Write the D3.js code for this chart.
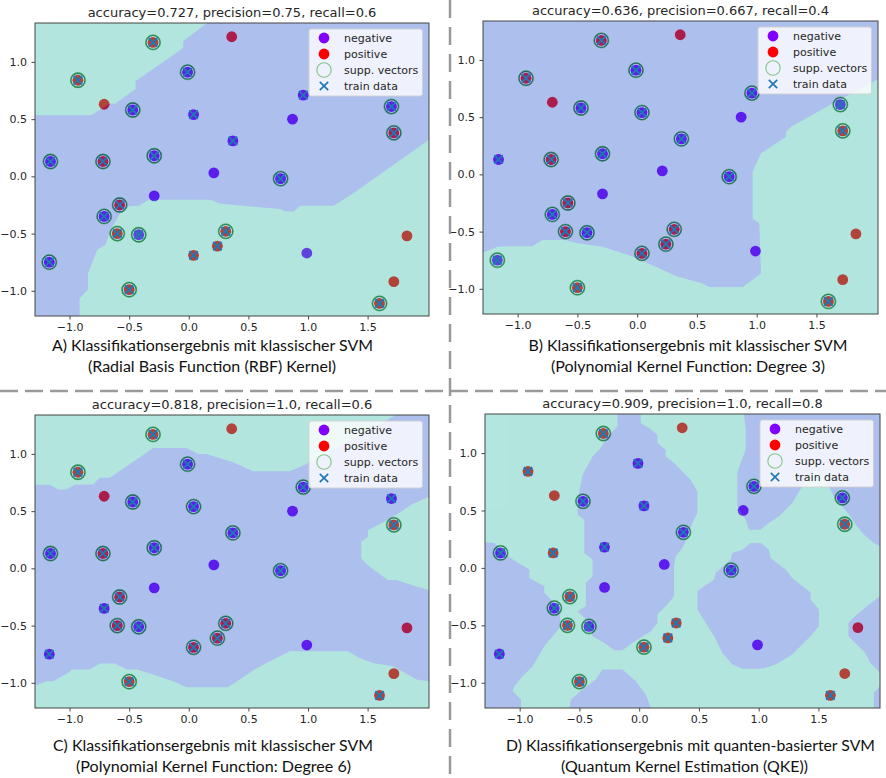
<!DOCTYPE html>
<html><head><meta charset="utf-8">
<script src="https://cdn.jsdelivr.net/npm/d3@7"></script>
<style>body{margin:0;background:#fff}</style>
</head><body>
<svg id="c" width="886" height="778"></svg>
<script>
// ---------------- DATA ----------------
const pointX = [-0.30, 0.36, -0.93, -0.71, -0.01, -0.47, 0.04, 0.96, 0.87, 1.70, 1.72, 0.37, -1.16, -0.72, -0.29, 0.21, 0.77, -0.29, -0.58, -0.71, -0.60, -0.42, 0.31, 0.24, 0.04, 0.99, 1.83, -1.17, -0.50, 1.72, 1.60];
const pointY = [1.17, 1.22, 0.84, 0.63, 0.91, 0.58, 0.54, 0.71, 0.50, 0.61, 0.38, 0.31, 0.13, 0.13, 0.18, 0.03, -0.02, -0.17, -0.25, -0.35, -0.50, -0.51, -0.48, -0.61, -0.69, -0.67, -0.52, -0.75, -0.99, -0.92, -1.11];
const pointClass = [1, 1, 1, 1, 0, 0, 0, 0, 0, 0, 1, 0, 0, 1, 0, 0, 0, 0, 1, 0, 1, 0, 1, 1, 1, 0, 1, 0, 1, 1, 1];
const isTrain = [1, 0, 1, 0, 1, 1, 1, 1, 0, 1, 1, 1, 1, 1, 1, 0, 1, 0, 1, 1, 1, 1, 1, 1, 1, 0, 0, 1, 1, 0, 1];

const supportA = [0, 2, 4, 5, 9, 10, 12, 13, 14, 16, 18, 19, 20, 21, 22, 27, 28, 30];
const supportB = [0, 2, 4, 5, 6, 7, 9, 10, 11, 13, 14, 16, 18, 19, 20, 21, 22, 23, 24, 27, 28, 30];
const supportC = [0, 2, 4, 5, 6, 7, 10, 11, 12, 13, 14, 16, 18, 20, 21, 22, 23, 24, 28];
const supportD = [0, 5, 7, 9, 10, 11, 12, 16, 18, 19, 20, 21, 24, 28];

const panelTitles = [
  "accuracy=0.727, precision=0.75, recall=0.6",
  "accuracy=0.636, precision=0.667, recall=0.4",
  "accuracy=0.818, precision=1.0, recall=0.6",
  "accuracy=0.909, precision=1.0, recall=0.8"
];
const captionLine1 = [
  "A) Klassifikationsergebnis mit klassischer SVM",
  "B) Klassifikationsergebnis mit klassischer SVM",
  "C) Klassifikationsergebnis mit klassischer SVM",
  "D) Klassifikationsergebnis mit quanten-basierter SVM"
];
const captionLine2 = [
  "(Radial Basis Function (RBF) Kernel)",
  "(Polynomial Kernel Function: Degree 3)",
  "(Polynomial Kernel Function: Degree 6)",
  "(Quantum Kernel Estimation (QKE))"
];
const legendLabels = ["negative", "positive", "supp. vectors", "train data"];
const xTicks = [-1.0, -0.5, 0.0, 0.5, 1.0, 1.5];
const yTicks = [-1.0, -0.5, 0.0, 0.5, 1.0];
const xDomain = [-1.29, 2.015];
const yDomain = [-1.22, 1.34];

// decision regions: background class per panel, and polygons of the other class
const regionBaseClass = [0, 0, 0, 1];
const regionsA = [
  [[-1.29,1.34],[0.154,1.34],[-0.047,1.181],[-0.047,1.122],[-0.447,0.831],[-0.447,0.764],[-0.615,0.636],[-0.662,0.636],[-0.818,0.534],[-1.29,0.534]],
  [[-0.916,-1.22],[-0.916,-1.064],[-0.846,-0.991],[-0.846,-0.851],[-0.768,-0.641],[-0.698,-0.598],[-0.656,-0.466],[-0.573,-0.321],[-0.503,-0.262],[-0.419,-0.257],[-0.335,-0.204],[0.182,-0.204],[0.265,-0.239],[0.768,-0.286],[0.81,-0.306],[0.88,-0.306],[0.936,-0.257],[1.215,-0.257],[1.383,-0.146],[2.015,0.321],[2.015,-1.22]]
];
const regionsB = [
  [[-1.29,-0.682],[-1.170,-0.633],[-1.087,-0.627],[-0.877,-0.627],[-0.793,-0.574],[-0.598,-0.574],[-0.514,-0.598],[-0.291,-0.633],[-0.067,-0.706],[0.156,-0.808],[0.324,-0.889],[0.547,-0.953],[0.603,-0.983],[0.883,-0.983],[1.036,-0.866],[1.022,-0.429],[0.966,-0.385],[0.966,0.023],[1.036,0.184],[1.246,0.329],[1.246,0.373],[1.288,0.417],[1.665,0.636],[2.015,0.831],[2.015,-1.22],[-1.29,-1.22]]
];
const regionsC = [
  [[-1.29,1.34],[1.740,1.34],[1.098,0.971],[0.930,0.884],[0.846,0.849],[0.539,0.849],[0.372,0.928],[0.148,1.0],[0.078,1.0],[-0.020,1.052],[-0.299,1.052],[-0.411,0.971],[-0.662,0.791],[-0.746,0.791],[-0.802,0.733],[-0.955,0.733],[-1.025,0.690],[-1.095,0.690],[-1.165,0.730],[-1.29,0.730]],
  [[2.015,0.623],[1.880,0.565],[1.712,0.449],[1.503,0.333],[1.503,0.275],[1.447,0.232],[1.447,0.087],[1.517,0.014],[1.670,-0.101],[1.740,-0.101],[1.908,-0.159],[2.015,-0.188]],
  [[-1.29,-1.023],[-1.193,-0.986],[-1.137,-0.986],[-1.011,-0.913],[-0.983,-0.884],[-0.830,-0.884],[-0.746,-0.832],[-0.620,-0.832],[-0.522,-0.884],[-0.438,-0.884],[-0.299,-0.928],[-0.132,-0.986],[-0.019,-1.038],[0.329,-1.038],[0.427,-0.971],[0.553,-0.884],[0.651,-0.826],[0.735,-0.783],[0.847,-0.725],[1.335,-0.725],[1.433,-0.783],[1.545,-0.826],[1.712,-0.856],[1.811,-0.913],[1.909,-0.971],[2.015,-0.986],[2.015,-1.22],[-1.29,-1.22]]
];
const regionsD = [
  [[-0.181,1.34],[0.013,1.34],[0.013,1.261],[0.084,1.217],[0.153,1.159],[0.153,1.087],[0.222,1.029],[0.222,0.970],[0.292,0.913],[0.362,0.840],[0.431,0.768],[0.487,0.666],[0.487,0.478],[0.445,0.391],[0.389,0.231],[0.362,0.174],[0.306,0.101],[0.292,0.014],[0.292,-0.247],[0.222,-0.334],[0.153,-0.406],[0.153,-0.478],[0.097,-0.551],[-0.056,-0.652],[-0.140,-0.717],[-0.209,-0.717],[-0.292,-0.652],[-0.390,-0.595],[-0.418,-0.478],[-0.515,-0.377],[-0.446,-0.334],[-0.446,-0.130],[-0.390,-0.073],[-0.390,0.072],[-0.459,0.130],[-0.459,0.420],[-0.515,0.463],[-0.515,0.594],[-0.474,0.811],[-0.390,0.970],[-0.321,1.043],[-0.251,1.159],[-0.181,1.231]],
  [[-1.29,0.223],[-1.211,0.217],[-1.142,0.144],[-1.058,0.072],[-0.989,0.029],[-0.919,-0.015],[-0.919,-0.087],[-0.794,-0.160],[-0.794,-0.217],[-0.724,-0.290],[-0.668,-0.363],[-0.655,-0.508],[-0.724,-0.595],[-0.794,-0.682],[-0.850,-0.783],[-0.891,-0.856],[-0.975,-0.943],[-1.044,-1.030],[-1.058,-1.073],[-0.989,-1.145],[-0.989,-1.22],[-1.29,-1.22]],
  [[-0.585,-1.22],[-0.571,-1.145],[-0.474,-1.058],[-0.363,-0.971],[-0.307,-0.884],[-0.140,-0.884],[-0.028,-0.986],[0.055,-1.102],[0.097,-1.22]],
  [[0.487,-0.203],[0.487,-0.363],[0.556,-0.478],[0.627,-0.595],[0.696,-0.739],[0.779,-0.841],[0.863,-0.878],[1.030,-0.878],[1.141,-0.841],[1.281,-0.754],[1.364,-0.667],[1.434,-0.595],[1.504,-0.508],[1.504,-0.363],[1.434,-0.276],[1.434,-0.217],[1.281,-0.087],[1.225,-0.015],[1.099,0.087],[1.086,0.159],[1.016,0.217],[0.932,0.217],[0.863,0.159],[0.779,0.130],[0.765,0.072],[0.640,-0.043],[0.627,-0.102],[0.543,-0.160]],
  [[0.877,1.34],[2.015,1.34],[2.015,0.188],[1.963,0.217],[1.880,0.290],[1.810,0.377],[1.768,0.449],[1.698,0.536],[1.629,0.623],[1.587,0.710],[1.475,0.855],[1.364,0.710],[1.281,0.565],[1.170,0.449],[1.086,0.391],[1.016,0.333],[0.919,0.333],[0.891,0.420],[0.821,0.536],[0.821,0.826],[0.849,0.913],[0.891,1.029],[0.891,1.203]],
  [[2.015,-0.247],[1.905,-0.334],[1.821,-0.406],[1.751,-0.478],[1.751,-0.595],[1.821,-0.667],[1.891,-0.739],[1.933,-0.826],[2.015,-0.913]],
  [[2.015,-1.03],[1.963,-1.087],[1.963,-1.22],[2.015,-1.22]]
];

// ---------------- LAYOUT / STYLE ----------------
const allSupport = [supportA, supportB, supportC, supportD];
const allRegions = [regionsA, regionsB, regionsC, regionsD];
const plotRects = [
  {l: 35, t: 23, r: 429, b: 316},
  {l: 483, t: 21, r: 878, b: 314},
  {l: 35, t: 415, r: 429, b: 708},
  {l: 485, t: 414, r: 880, b: 708}
];
const titleBase = [17, 15, 408.5, 407.5];
const capLayout = [
  {cx1: 212.5, cx2: 212, y1: 351, y2: 372, w1: 321, w2: 248},
  {cx1: 688, cx2: 688, y1: 351, y2: 372, w1: 319, w2: 274},
  {cx1: 213, cx2: 213.5, y1: 750.5, y2: 771.5, w1: 320, w2: 275},
  {cx1: 690.5, cx2: 684.5, y1: 750.5, y2: 771.5, w1: 369, w2: 247}
];
const classColor = ["#8000ff", "#ff0000"];
const regionColor = ["#1e50d0", "#29baa3"];
const overlayAlpha = 0.36;
const crossColor = "#1f77b4";
const ringColor = "#2ca02c";
const fmt = d3.format(".1f");

const svg = d3.select("#c");
svg.append("rect").attr("width", 886).attr("height", 778).attr("fill", "#fff");

const points = pointX.map((x, i) => ({x, y: pointY[i], c: pointClass[i], train: isTrain[i], i}));
const crossPath = "M-4.2,-4.2L4.2,4.2M-4.2,4.2L4.2,-4.2";

plotRects.forEach((R, p) => {
  const x = d3.scaleLinear().domain(xDomain).range([R.l, R.r]);
  const y = d3.scaleLinear().domain(yDomain).range([R.b, R.t]);
  const g = svg.append("g");
  const clipId = "clip" + p;
  g.append("clipPath").attr("id", clipId).append("rect")
    .attr("x", R.l).attr("y", R.t).attr("width", R.r - R.l).attr("height", R.b - R.t);
  const inner = g.append("g").attr("clip-path", `url(#${clipId})`);
  const sv = new Set(allSupport[p]);

  // points (drawn beneath the semi-transparent decision surface)
  inner.selectAll("circle.dot").data(points).join("circle").attr("class", "dot")
    .attr("cx", d => x(d.x)).attr("cy", d => y(d.y)).attr("r", 5.4)
    .attr("fill", d => classColor[d.c]);
  inner.selectAll("circle.svu").data(points.filter(d => sv.has(d.i))).join("circle").attr("class", "svu")
    .attr("cx", d => x(d.x)).attr("cy", d => y(d.y)).attr("r", 7.0)
    .attr("fill", "none").attr("stroke", "#2f5f4f").attr("stroke-width", 1.3);

  // decision surface overlay
  const ov = inner.append("g").attr("opacity", overlayAlpha);
  const base = regionBaseClass[p];
  ov.append("rect").attr("x", R.l).attr("y", R.t).attr("width", R.r - R.l).attr("height", R.b - R.t)
    .attr("fill", regionColor[base]);
  const line = d3.line().x(d => x(d[0])).y(d => y(d[1]));
  ov.selectAll("path").data(allRegions[p]).join("path")
    .attr("d", d => line(d) + "Z").attr("fill", regionColor[1 - base]);

  // support-vector rings and train crosses on top
  inner.selectAll("circle.sv").data(points.filter(d => sv.has(d.i))).join("circle").attr("class", "sv")
    .attr("cx", d => x(d.x)).attr("cy", d => y(d.y)).attr("r", 7.6)
    .attr("fill", "none").attr("stroke", ringColor).attr("stroke-opacity", 0.55).attr("stroke-width", 1);
  inner.selectAll("path.tr").data(points.filter(d => d.train)).join("path").attr("class", "tr")
    .attr("transform", d => `translate(${x(d.x)},${y(d.y)})`)
    .attr("d", crossPath).attr("stroke", crossColor)
    .attr("stroke-width", 1.9).attr("fill", "none");

  // axes
  const ax = g.append("g").attr("transform", `translate(0,${R.b})`)
    .call(d3.axisBottom(x).tickValues(xTicks).tickSize(3.5).tickPadding(4).tickFormat(fmt));
  const ay = g.append("g").attr("transform", `translate(${R.l},0)`)
    .call(d3.axisLeft(y).tickValues(yTicks).tickSize(3.5).tickPadding(4.5).tickFormat(fmt));
  [ax, ay].forEach(a => {
    a.select(".domain").remove();
    a.selectAll("line").attr("stroke", "#333").attr("stroke-width", 0.9);
    a.selectAll("text").attr("font-family", "DejaVu Sans").attr("font-size", 11).attr("fill", "#262626");
  });
  g.append("rect").attr("x", R.l).attr("y", R.t).attr("width", R.r - R.l).attr("height", R.b - R.t)
    .attr("fill", "none").attr("stroke", "#444").attr("stroke-width", 1);

  // title
  g.append("text").attr("x", (R.l + R.r) / 2).attr("y", titleBase[p]).attr("text-anchor", "middle")
    .attr("font-family", "DejaVu Sans").attr("font-size", 13).attr("fill", "#262626").text(panelTitles[p]);

  // legend
  const lx = R.r - 120, ly = R.t + 6;
  const lg = g.append("g").attr("transform", `translate(${lx},${ly})`);
  lg.append("rect").attr("width", 113.5).attr("height", 67).attr("rx", 2.5)
    .attr("fill", "#fff").attr("fill-opacity", 0.8).attr("stroke", "#d0d0d0").attr("stroke-width", 0.9);
  legendLabels.forEach((lab, k) => {
    const cy = 9 + k * 16;
    if (k < 2) lg.append("circle").attr("cx", 15).attr("cy", cy).attr("r", 5.4).attr("fill", classColor[k]);
    else if (k === 2) lg.append("circle").attr("cx", 15).attr("cy", cy).attr("r", 7.2).attr("fill", "none")
      .attr("stroke", ringColor).attr("stroke-opacity", 0.55).attr("stroke-width", 1.1);
    else lg.append("path").attr("transform", `translate(15,${cy})`).attr("d", crossPath)
      .attr("stroke", crossColor).attr("stroke-width", 1.7).attr("fill", "none");
    lg.append("text").attr("x", 35).attr("y", cy + 4).attr("font-family", "DejaVu Sans").attr("font-size", 11)
      .attr("fill", "#262626").text(lab);
  });

  // captions
  const C = capLayout[p];
  svg.append("text").attr("x", C.cx1).attr("y", C.y1).attr("text-anchor", "middle")
    .attr("font-family", "Lato").attr("font-size", 15.5).attr("fill", "#111")
    .attr("textLength", C.w1).attr("lengthAdjust", "spacingAndGlyphs").text(captionLine1[p]);
  svg.append("text").attr("x", C.cx2).attr("y", C.y2).attr("text-anchor", "middle")
    .attr("font-family", "Lato").attr("font-size", 15.5).attr("fill", "#111")
    .attr("textLength", C.w2).attr("lengthAdjust", "spacingAndGlyphs").text(captionLine2[p]);
});

// dashed separators
svg.append("line").attr("x1", 0).attr("x2", 886).attr("y1", 391).attr("y2", 391)
  .attr("stroke", "#9a9a9a").attr("stroke-width", 2.5).attr("stroke-dasharray", "18,7");
svg.append("line").attr("x1", 450).attr("x2", 450).attr("y1", 0).attr("y2", 778)
  .attr("stroke", "#9a9a9a").attr("stroke-width", 2.5).attr("stroke-dasharray", "18,9");
</script>
</body></html>
